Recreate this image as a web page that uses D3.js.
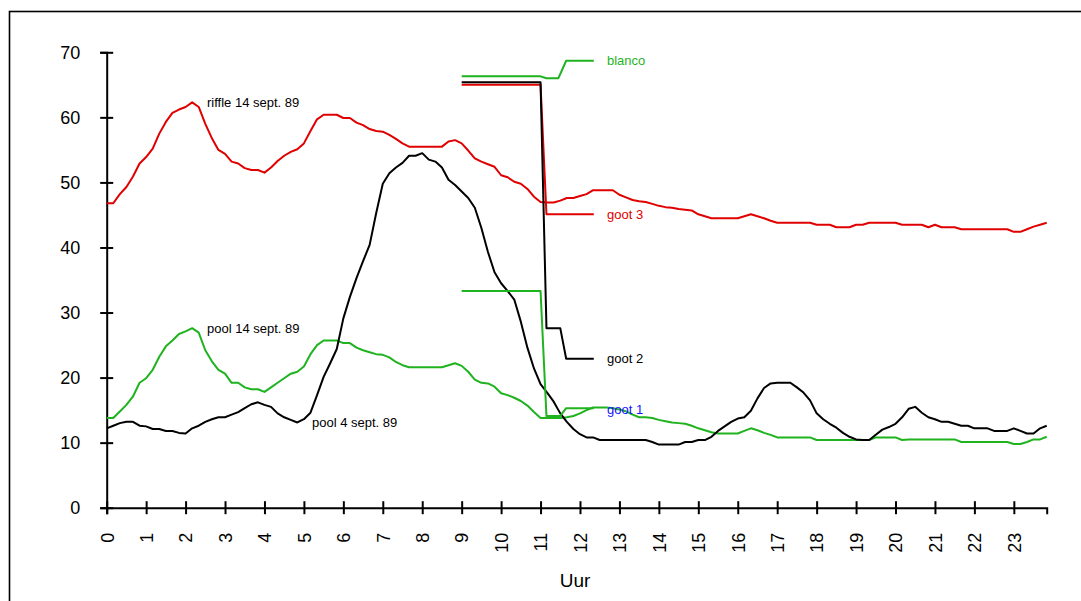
<!DOCTYPE html>
<html>
<head>
  <meta charset="UTF-8">
  <title>Uur</title>
  <style>
    body { margin: 0; background: #fff; font-family: "Liberation Sans", Arial, sans-serif; }
    svg { display: block; }
  </style>
</head>
<body>
  <div id="chart"></div>
  <script src="https://cdn.jsdelivr.net/npm/d3@7/dist/d3.min.js"></script>
  <script>
    // measurements every 10 minutes, 0:00 - 23:50
    var hours = d3.range(144).map(function (i) { return i / 6; });

    var riffle14 = [
      46.8, 46.8, 48.2, 49.3, 50.9, 52.9,
      53.9, 55.2, 57.5, 59.3, 60.7, 61.2,
      61.6, 62.3, 61.6, 59.0, 56.8, 55.0,
      54.4, 53.2, 52.9, 52.2, 51.9, 51.9,
      51.5, 52.3, 53.3, 54.1, 54.7, 55.1,
      56.0, 57.9, 59.7, 60.4, 60.4, 60.4,
      59.9, 59.9, 59.2, 58.8, 58.2, 57.9,
      57.8, 57.3, 56.7, 56.0, 55.5, 55.5,
      55.5, 55.5, 55.5, 55.5, 56.3, 56.5,
      56.0, 54.9, 53.7, 53.2, 52.8, 52.4,
      51.1, 50.8, 50.1, 49.8, 49.0, 47.8,
      47.0, 46.9, 46.9, 47.2, 47.6, 47.6,
      47.9, 48.2, 48.8, 48.8, 48.8, 48.8,
      48.1, 47.7, 47.3, 47.1, 47.0, 46.7,
      46.4, 46.2, 46.1, 45.9, 45.8, 45.7,
      45.1, 44.8, 44.5, 44.5, 44.5, 44.5,
      44.5, 44.8, 45.1, 44.8, 44.5, 44.1,
      43.8, 43.8, 43.8, 43.8, 43.8, 43.8,
      43.5, 43.5, 43.5, 43.1, 43.1, 43.1,
      43.5, 43.5, 43.8, 43.8, 43.8, 43.8,
      43.8, 43.5, 43.5, 43.5, 43.5, 43.1,
      43.5, 43.1, 43.1, 43.1, 42.8, 42.8,
      42.8, 42.8, 42.8, 42.8, 42.8, 42.8,
      42.4, 42.4, 42.8, 43.2, 43.5, 43.8
    ];

    var pool14 = [
      13.8, 13.8, 14.8, 15.8, 17.1, 19.2,
      19.9, 21.2, 23.2, 24.8, 25.7, 26.7,
      27.1, 27.6, 26.9, 24.2, 22.5, 21.2,
      20.6, 19.2, 19.2, 18.5, 18.2, 18.2,
      17.8, 18.5, 19.2, 19.9, 20.6, 20.9,
      21.7, 23.6, 25.0, 25.7, 25.7, 25.7,
      25.3, 25.3, 24.6, 24.2, 23.9, 23.6,
      23.5, 23.1, 22.4, 21.9, 21.6, 21.6,
      21.6, 21.6, 21.6, 21.6, 21.9, 22.2,
      21.8, 20.9, 19.7, 19.2, 19.1, 18.6,
      17.6, 17.3, 16.9, 16.4, 15.7, 14.7,
      13.8, 13.8, 13.8, 13.8, 13.9, 14.1,
      14.5, 15.0, 15.4, 15.4, 15.4, 15.3,
      15.1, 14.8, 14.3, 13.9, 13.9, 13.8,
      13.5, 13.3, 13.1, 13.0, 12.9, 12.6,
      12.2, 11.9, 11.6, 11.4, 11.4, 11.4,
      11.4, 11.8, 12.2, 11.9, 11.5, 11.2,
      10.8, 10.8, 10.8, 10.8, 10.8, 10.8,
      10.4, 10.4, 10.4, 10.4, 10.4, 10.4,
      10.4, 10.4, 10.4, 10.8, 10.8, 10.8,
      10.8, 10.4, 10.5, 10.5, 10.5, 10.5,
      10.5, 10.5, 10.5, 10.5, 10.1, 10.1,
      10.1, 10.1, 10.1, 10.1, 10.1, 10.1,
      9.8, 9.8, 10.1, 10.5, 10.5, 10.9
    ];

    var pool4 = [
      12.2, 12.6, 13.0, 13.2, 13.2, 12.6,
      12.5, 12.1, 12.1, 11.8, 11.8, 11.5,
      11.4, 12.2, 12.6, 13.2, 13.6, 13.9,
      13.9, 14.3, 14.7, 15.3, 15.9, 16.2,
      15.8, 15.5, 14.5, 13.9, 13.5, 13.1,
      13.6, 14.6, 17.3, 20.1, 22.2, 24.4,
      29.1, 32.4, 35.3, 37.9, 40.4, 45.3,
      49.8, 51.4, 52.3, 53.0, 54.1, 54.1,
      54.5, 53.5, 53.2, 52.3, 50.4, 49.6,
      48.6, 47.6, 46.1, 43.0, 39.3, 36.2,
      34.5, 33.3, 32.0, 28.6, 24.6, 21.4,
      19.0, 17.7, 16.3, 14.5, 13.2, 12.1,
      11.3, 10.8, 10.8, 10.4, 10.4, 10.4,
      10.4, 10.4, 10.4, 10.4, 10.4, 10.1,
      9.7, 9.7, 9.7, 9.7, 10.1, 10.1,
      10.4, 10.4, 10.9, 11.8, 12.5, 13.2,
      13.7, 13.9, 14.9, 16.8, 18.4, 19.1,
      19.2, 19.2, 19.2, 18.5, 17.7, 16.5,
      14.5, 13.6, 12.9, 12.3, 11.5, 10.9,
      10.5, 10.4, 10.4, 11.2, 12.0, 12.4,
      12.9, 13.9, 15.2, 15.5, 14.6, 13.9,
      13.6, 13.2, 13.2, 12.9, 12.6, 12.6,
      12.2, 12.2, 12.2, 11.8, 11.8, 11.8,
      12.2, 11.8, 11.4, 11.4, 12.2, 12.6
    ];

    // short step lines 9:00 - 12:20 (blanco / goot 1-3)
    var stepHours = {
      blanco: [9, 11.0, 11.15, 11.45, 11.65, 12.35],
      goot1: [9, 11.0, 11.15, 11.5, 11.65, 12.35],
      goot2: [9, 11.0, 11.15, 11.5, 11.65, 12.35],
      goot3: [9, 11.0, 11.15, 12.35]
    };
    var blanco = [66.3, 66.3, 66.0, 66.0, 68.7, 68.7];
    var goot1 = [33.3, 33.3, 14.1, 14.1, 15.3, 15.3];
    var goot2 = [65.4, 65.4, 27.6, 27.6, 22.9, 22.9];
    var goot3 = [65.0, 65.0, 45.1, 45.1];

    var yTicks = [0, 10, 20, 30, 40, 50, 60, 70];
    var xTicks = d3.range(24);

    var red = '#e00000', green = '#1fb31f', blue = '#1414ff';

    var width = 1081, height = 601;
    var svg = d3.select('#chart').append('svg')
      .attr('width', width)
      .attr('height', height);

    // outer frame
    svg.append('rect')
      .attr('x', 9.5).attr('y', 11.5)
      .attr('width', 1100).attr('height', 700)
      .attr('fill', 'none')
      .attr('stroke', '#000')
      .attr('stroke-width', 1.6);

    var x = d3.scaleLinear().domain([0, 23 + 5 / 6]).range([106.7, 1046.7]);
    var y = d3.scaleLinear().domain([0, 70]).range([507.7, 52.3]);

    var yAxis = svg.append('g')
      .attr('transform', 'translate(' + x(0) + ',0)')
      .call(d3.axisLeft(y).tickValues(yTicks).tickSizeOuter(0).tickSize(6.5).tickPadding(20));
    yAxis.select('.domain').attr('stroke-width', 2);
    yAxis.selectAll('.tick line').attr('x1', 6.5).attr('stroke-width', 2);
    yAxis.selectAll('.tick text')
      .attr('font-family', '"Liberation Sans", Arial, sans-serif')
      .attr('font-size', 18)
      .attr('fill', '#000');

    var xAxis = svg.append('g')
      .attr('transform', 'translate(0,' + y(0) + ')')
      .call(d3.axisBottom(x).tickValues(xTicks).tickFormat(d3.format('d')).tickSizeOuter(0).tickSize(6.5));
    xAxis.select('.domain').attr('stroke-width', 2);
    xAxis.selectAll('.tick line').attr('y1', -6.5).attr('stroke-width', 2);
    xAxis.selectAll('.tick text')
      .attr('font-family', '"Liberation Sans", Arial, sans-serif')
      .attr('font-size', 18)
      .attr('fill', '#000')
      .attr('text-anchor', 'end')
      .attr('transform', 'rotate(-90)')
      .attr('x', -25)
      .attr('y', 0)
      .attr('dy', '0.35em');

    svg.append('text')
      .attr('x', 575).attr('y', 587)
      .attr('text-anchor', 'middle')
      .attr('font-size', 19)
      .text('Uur');

    var line = d3.line()
      .x(function (d) { return x(d[0]); })
      .y(function (d) { return y(d[1]); });

    function drawSeries(hs, vals, color) {
      svg.append('path')
        .datum(d3.zip(hs, vals))
        .attr('fill', 'none')
        .attr('stroke', color)
        .attr('stroke-width', 2)
        .attr('stroke-linejoin', 'round')
        .attr('d', line);
    }

    drawSeries(hours, pool14, green);
    drawSeries(hours, pool4, '#000');
    drawSeries(hours, riffle14, red);
    drawSeries(stepHours.blanco, blanco, green);
    drawSeries(stepHours.goot1, goot1, green);
    drawSeries(stepHours.goot3, goot3, red);
    drawSeries(stepHours.goot2, goot2, '#000');

    var labels = [
      { text: 'riffle 14 sept. 89', x: 207, y: 107, color: '#000' },
      { text: 'pool 14 sept. 89', x: 207, y: 333, color: '#000' },
      { text: 'pool 4 sept. 89', x: 312, y: 427, color: '#000' },
      { text: 'blanco', x: 607, y: 65, color: green },
      { text: 'goot 3', x: 607, y: 219, color: red },
      { text: 'goot 2', x: 607, y: 363, color: '#000' },
      { text: 'goot 1', x: 607, y: 414, color: blue }
    ];
    svg.selectAll('text.note')
      .data(labels)
      .enter()
      .append('text')
      .attr('class', 'note')
      .attr('x', function (d) { return d.x; })
      .attr('y', function (d) { return d.y; })
      .attr('font-size', 13)
      .attr('fill', function (d) { return d.color; })
      .text(function (d) { return d.text; });
  </script>
</body>
</html>
